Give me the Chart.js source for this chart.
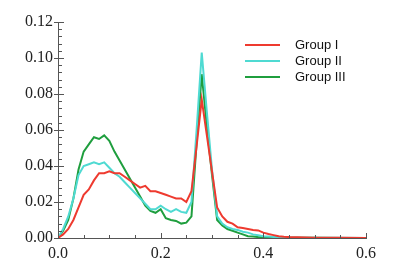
<!DOCTYPE html>
<html lang="en">
<head>
  <meta charset="UTF-8" />
  <title>Distribution by group</title>
  <script src="https://cdn.jsdelivr.net/npm/chart.js"></script>
  <style>
    body {
      margin: 0;
      background: white;
    }
    #wrap {
      width: 400px;
      height: 278px;
    }
  </style>
</head>
<body>

  <div id="wrap">
    <canvas id="distChart" width="400" height="278"></canvas>
  </div>

  <script>
    // x positions of the samples
    const xs = [
      0.00, 0.01, 0.02, 0.03, 0.04, 0.05, 0.06, 0.07, 0.08, 0.09,
      0.10, 0.11, 0.12, 0.13, 0.14, 0.15, 0.16, 0.17, 0.18, 0.19,
      0.20, 0.21, 0.22, 0.23, 0.24, 0.25, 0.26, 0.27, 0.28, 0.29,
      0.30, 0.31, 0.32, 0.33, 0.34, 0.35, 0.36, 0.37, 0.38, 0.39,
      0.40, 0.41, 0.42, 0.43, 0.44, 0.45, 0.50, 0.55, 0.60
    ];

    const groupNames = ["Group I", "Group II", "Group III"];

    const groupI = [
      0.000, 0.002, 0.005, 0.010, 0.017, 0.024, 0.027, 0.032, 0.036, 0.036,
      0.037, 0.036, 0.036, 0.034, 0.032, 0.030, 0.028, 0.029, 0.026, 0.026,
      0.025, 0.024, 0.023, 0.022, 0.022, 0.020, 0.026, 0.051, 0.077, 0.057,
      0.037, 0.017, 0.012, 0.009, 0.008, 0.006, 0.0055, 0.005, 0.0045, 0.0042,
      0.003, 0.0022, 0.0016, 0.001, 0.0007, 0.0005, 0.0002, 0.0001, 0.000
    ];

    const groupII = [
      0.000, 0.005, 0.012, 0.022, 0.035, 0.040, 0.041, 0.042, 0.041, 0.042,
      0.039, 0.036, 0.034, 0.031, 0.028, 0.025, 0.022, 0.019, 0.016, 0.016,
      0.018, 0.016, 0.0145, 0.016, 0.0145, 0.014, 0.020, 0.060, 0.103, 0.070,
      0.038, 0.012, 0.008, 0.006, 0.005, 0.0045, 0.0035, 0.003, 0.002, 0.0015,
      0.001, 0.0008, 0.0006, 0.0005, 0.0004, 0.0003, 0.0002, 0.0001, 0.000
    ];

    const groupIII = [
      0.000, 0.004, 0.010, 0.022, 0.038, 0.048, 0.052, 0.056, 0.055, 0.057,
      0.054, 0.048, 0.043, 0.038, 0.033, 0.028, 0.023, 0.018, 0.015, 0.014,
      0.016, 0.011, 0.010, 0.0095, 0.008, 0.0085, 0.012, 0.053, 0.091, 0.062,
      0.035, 0.010, 0.007, 0.005, 0.004, 0.003, 0.002, 0.001, 0.0008, 0.0005,
      0.0003, 0.0002, 0.0001, 0.0001, 0.0001, 0.0001, 0.0001, 0.0000, 0.000
    ];

    const colors = ["#ee3a2f", "#4fdad2", "#1f9e3e"];

    const toPoints = arr => xs.map((x, i) => ({ x: x, y: arr[i] }));

    // ticks point inward (y majors poke out a little), labels in a Times-like face
    const axisDecor = {
      id: "axisDecor",
      afterDraw(chart) {
        const ctx = chart.ctx;
        const xScale = chart.scales.x;
        const yScale = chart.scales.y;
        ctx.save();
        ctx.strokeStyle = "#555";
        ctx.lineWidth = 1;
        ctx.beginPath();
        yScale.ticks.forEach((t, i) => {
          const py = Math.round(yScale.getPixelForValue(t.value)) + 0.5;
          const major = i % 5 === 0;
          ctx.moveTo(yScale.right - (major ? 4 : 0), py);
          ctx.lineTo(yScale.right + (major ? 6 : 4), py);
        });
        xScale.ticks.forEach((t, i) => {
          const px = Math.round(xScale.getPixelForValue(t.value)) + 0.5;
          const major = i % 4 === 0;
          ctx.moveTo(px, xScale.top);
          ctx.lineTo(px, xScale.top - (major ? 5 : 3));
        });
        ctx.stroke();

        ctx.font = "16px 'Liberation Serif'";
        ctx.fillStyle = "#222";
        ctx.textAlign = "right";
        ctx.textBaseline = "middle";
        yScale.ticks.forEach((t, i) => {
          if (i % 5 !== 0) return;
          ctx.fillText(t.value.toFixed(2), yScale.right - 5, yScale.getPixelForValue(t.value));
        });
        ctx.textAlign = "center";
        ctx.textBaseline = "top";
        xScale.ticks.forEach((t, i) => {
          if (i % 4 !== 0) return;
          ctx.fillText(t.value.toFixed(1), xScale.getPixelForValue(t.value), xScale.top + 8);
        });
        ctx.restore();
      }
    };

    // legend list drawn inside the plot, upper right
    const innerLegend = {
      id: "innerLegend",
      afterDraw(chart) {
        const ctx = chart.ctx;
        const area = chart.chartArea;
        const x0 = area.left + 187;
        const y0 = area.top + 23;
        ctx.save();
        ctx.font = "13px 'Liberation Sans'";
        ctx.textBaseline = "middle";
        ctx.fillStyle = "#111";
        chart.data.datasets.forEach((ds, i) => {
          const y = y0 + i * 16;
          ctx.strokeStyle = ds.borderColor;
          ctx.lineWidth = 2;
          ctx.beginPath();
          ctx.moveTo(x0, y);
          ctx.lineTo(x0 + 35, y);
          ctx.stroke();
          ctx.fillText(ds.label, x0 + 50, y);
        });
        ctx.restore();
      }
    };

    new Chart(document.getElementById("distChart"), {
      type: "line",
      data: {
        datasets: [groupI, groupII, groupIII].map((arr, i) => ({
          label: groupNames[i],
          data: toPoints(arr),
          borderColor: colors[i],
          borderWidth: 2,
          pointRadius: 0,
          tension: 0,
          fill: false
        }))
      },
      options: {
        responsive: false,
        animation: false,
        layout: {
          padding: { top: 22, right: 34, left: 0, bottom: 0 }
        },
        plugins: {
          legend: { display: false },
          tooltip: { enabled: false }
        },
        scales: {
          x: {
            type: "linear",
            min: 0,
            max: 0.6,
            grid: { display: false, drawTicks: false },
            border: { display: true, color: "#555", width: 1 },
            afterFit: scale => { scale.height = 40; },
            ticks: { display: false, stepSize: 0.05, autoSkip: false }
          },
          y: {
            min: 0,
            max: 0.12,
            grid: { display: false, drawTicks: false },
            border: { display: true, color: "#555", width: 1 },
            afterFit: scale => { scale.width = 58; },
            ticks: { display: false, stepSize: 0.004, autoSkip: false }
          }
        }
      },
      plugins: [axisDecor, innerLegend]
    });
  </script>

</body>
</html>
